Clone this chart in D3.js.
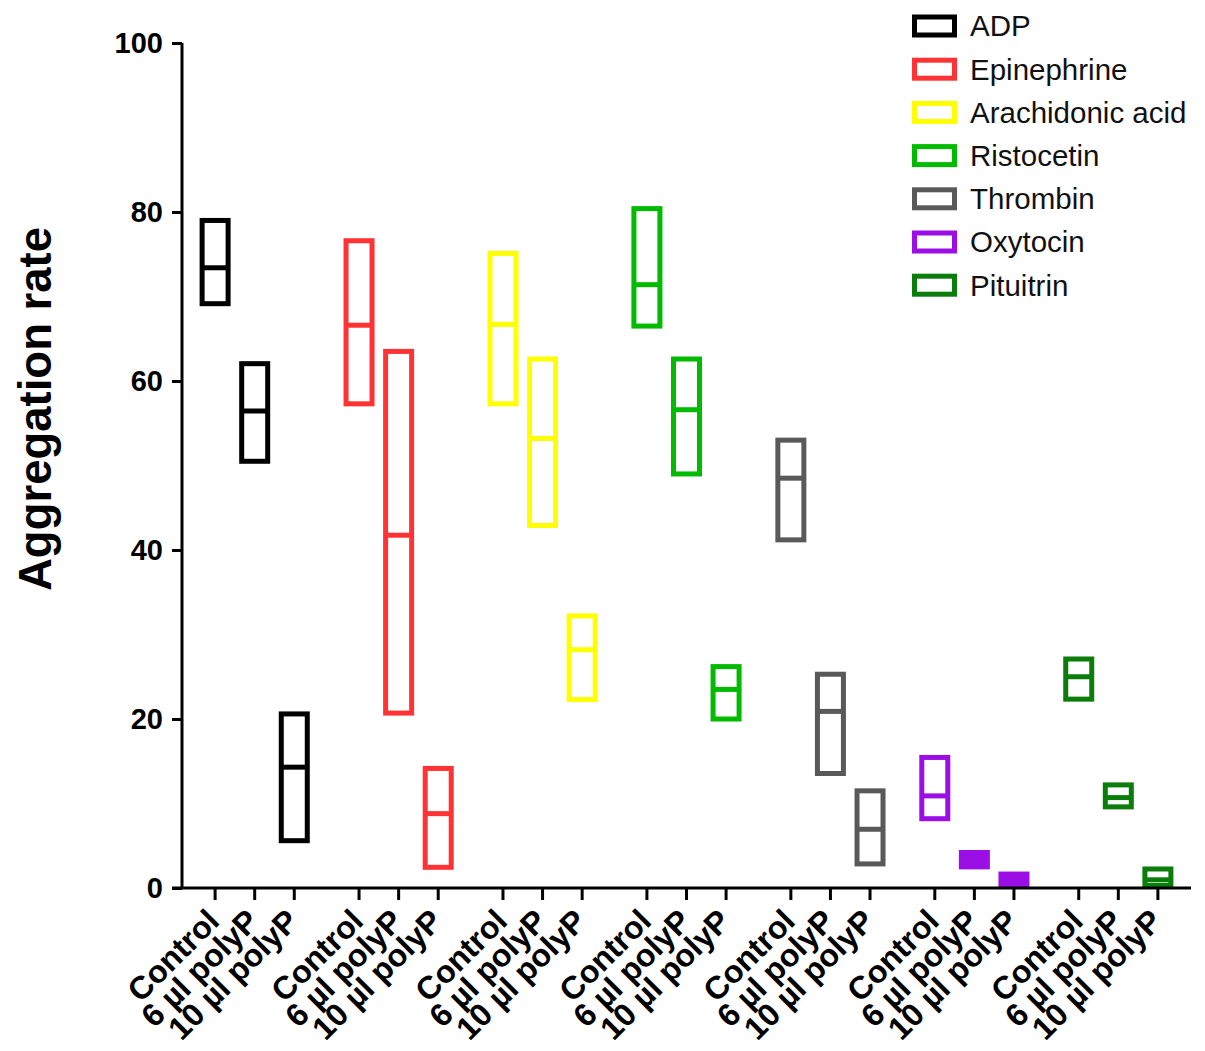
<!DOCTYPE html>
<html>
<head>
<meta charset="utf-8">
<script src="https://cdn.jsdelivr.net/npm/d3@7"></script>
<style>
  html, body { margin: 0; padding: 0; background: #ffffff; }
  svg { display: block; }
  text { font-family: "Liberation Sans", Arial, Helvetica, sans-serif; }
</style>
</head>
<body>
<svg id="chart" width="1205" height="1051"></svg>
<script>
// ---- data ----
const groups = ["ADP", "Epinephrine", "Arachidonic acid", "Ristocetin", "Thrombin", "Oxytocin", "Pituitrin"];
const conditions = ["Control", "6 µl polyP", "10 µl polyP"];
const colors = ["#000000", "#ff3333", "#ffff00", "#00bb00", "#595959", "#9b0fe6", "#0b7d0b"];
const yTicks = [0, 20, 40, 60, 80, 100];
const yTitle = "Aggregation rate";

// per group: [Control, 6 µl polyP, 10 µl polyP]
const minADP = [69.15, 50.5, 5.6];
const meanADP = [73.4, 56.45, 14.3];
const maxADP = [79.0, 62.05, 20.6];

const minEpinephrine = [57.3, 20.7, 2.45];
const meanEpinephrine = [66.6, 41.75, 8.8];
const maxEpinephrine = [76.6, 63.5, 14.15];

const minArachidonic = [57.3, 42.9, 22.3];
const meanArachidonic = [66.7, 53.2, 28.2];
const maxArachidonic = [75.1, 62.6, 32.2];

const minRistocetin = [66.5, 49.0, 20.0];
const meanRistocetin = [71.4, 56.6, 23.5];
const maxRistocetin = [80.4, 62.6, 26.2];

const minThrombin = [41.2, 13.55, 2.85];
const meanThrombin = [48.5, 20.9, 6.95];
const maxThrombin = [53.0, 25.3, 11.5];

const minOxytocin = [8.2, 2.5, 0.2];
const meanOxytocin = [10.9, 3.35, 1.0];
const maxOxytocin = [15.45, 4.2, 1.65];

const minPituitrin = [22.35, 9.6, 0.3];
const meanPituitrin = [25.0, 10.7, 0.97];
const maxPituitrin = [27.1, 12.2, 2.25];

const mins = [minADP, minEpinephrine, minArachidonic, minRistocetin, minThrombin, minOxytocin, minPituitrin];
const means = [meanADP, meanEpinephrine, meanArachidonic, meanRistocetin, meanThrombin, meanOxytocin, meanPituitrin];
const maxs = [maxADP, maxEpinephrine, maxArachidonic, maxRistocetin, maxThrombin, maxOxytocin, maxPituitrin];

// ---- layout ----
const svg = d3.select("#chart");
svg.append("rect").attr("width", 1205).attr("height", 1051).attr("fill", "#fff");

const axisX = 182, axisRight = 1191;
const y = d3.scaleLinear().domain([0, 100]).range([888, 43]);
const xGroup = d3.scaleBand().domain(groups).range([axisX, axisRight]).paddingInner(0.45).paddingOuter(0.23);
const xInner = d3.scalePoint().domain(conditions).range([0, xGroup.bandwidth()]);

const rows = [];
groups.forEach((g, gi) => {
  conditions.forEach((c, ci) => {
    rows.push({ group: g, cond: c, color: colors[gi], min: mins[gi][ci], mean: means[gi][ci], max: maxs[gi][ci],
      x: xGroup(g) + xInner(c) });
  });
});

const boxW = 26, sw = 5;

// boxes
const boxes = svg.append("g");
rows.forEach(d => {
  const top = y(d.max), bot = y(d.min);
  const h = bot - top;
  boxes.append("rect")
    .attr("x", d.x - boxW / 2).attr("y", top)
    .attr("width", boxW).attr("height", h)
    .attr("fill", h < 15 ? d.color : "none")
    .attr("stroke", d.color).attr("stroke-width", sw);
  boxes.append("line")
    .attr("x1", d.x - boxW / 2).attr("x2", d.x + boxW / 2)
    .attr("y1", y(d.mean)).attr("y2", y(d.mean))
    .attr("stroke", d.color).attr("stroke-width", sw);
});

// y axis
const yAxis = svg.append("g").attr("transform", `translate(${axisX},0)`)
  .call(d3.axisLeft(y).tickValues(yTicks).tickSize(10).tickPadding(9));
yAxis.select(".domain").attr("stroke", "#000").attr("stroke-width", 3).attr("d", `M0,${y(0)}V${y(100)}`);
yAxis.selectAll(".tick line").attr("stroke", "#000").attr("stroke-width", 3);
yAxis.selectAll(".tick text").attr("fill", "#000")
  .style("font-family", '"Liberation Sans", Arial, sans-serif')
  .style("font-size", "29px").style("font-weight", "bold");

// x axis
const xAxisG = svg.append("g");
xAxisG.append("line").attr("x1", axisX - 10).attr("x2", axisRight)
  .attr("y1", y(0)).attr("y2", y(0)).attr("stroke", "#000").attr("stroke-width", 3);
rows.forEach(d => {
  xAxisG.append("line").attr("x1", d.x).attr("x2", d.x)
    .attr("y1", y(0)).attr("y2", y(0) + 12).attr("stroke", "#000").attr("stroke-width", 3);
  xAxisG.append("text")
    .attr("transform", `translate(${d.x + 6},${y(0) + 35}) rotate(-45)`)
    .attr("text-anchor", "end")
    .style("font-size", "32px").style("font-weight", "bold").attr("fill", "#000")
    .text(d.cond);
});

// y title
svg.append("text")
  .attr("transform", `translate(51,409) rotate(-90)`)
  .attr("text-anchor", "middle")
  .style("font-size", "45.5px").style("font-weight", "bold").attr("fill", "#000")
  .text(yTitle);

// legend
const legend = svg.append("g");
groups.forEach((g, i) => {
  const cy = 26 + i * 43.2;
  legend.append("rect").attr("x", 914.5).attr("y", cy - 9).attr("width", 40).attr("height", 18)
    .attr("fill", "none").attr("stroke", colors[i]).attr("stroke-width", 5);
  legend.append("text").attr("x", 970).attr("y", cy).attr("dy", "0.35em")
    .style("font-size", "29.5px").attr("fill", "#111").text(g);
});
</script>
</body>
</html>
